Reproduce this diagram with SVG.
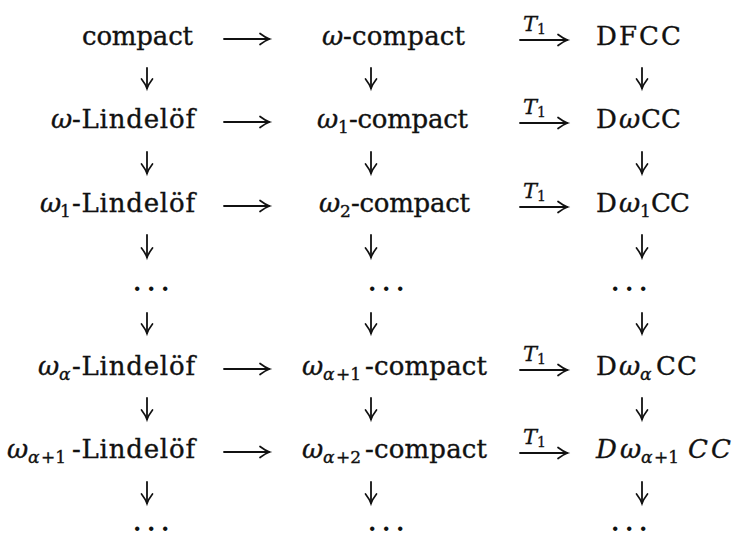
<svg xmlns="http://www.w3.org/2000/svg" width="736" height="536" viewBox="0 0 736 536">
<style>
.t{font-family:"DejaVu Serif","Liberation Serif",serif;font-size:26px;fill:#111;stroke:#111;stroke-width:0.35}
.i{font-style:italic}
.s{font-size:17px}
.lab{font-family:"DejaVu Serif","Liberation Serif",serif;font-size:21px;font-style:italic;fill:#111;stroke:#111;stroke-width:0.3}
.ls{font-size:14px;font-style:normal}
.d{font-family:"DejaVu Serif","Liberation Serif",serif;font-size:24px;font-weight:bold;fill:#111}
.c{stroke:#111;stroke-width:1.8;fill:none;stroke-linecap:round}
</style>
<defs>
<marker id="ah" markerUnits="userSpaceOnUse" markerWidth="16" markerHeight="16" viewBox="-12 -8 16 16" refX="0" refY="0" orient="auto">
<path d="M-9,-5.5 Q-3.5,-1.3 0.5,0 Q-3.5,1.3 -9,5.5" fill="none" stroke="#111" stroke-width="1.7" stroke-linecap="round"/>
</marker>
</defs>
<rect width="736" height="536" fill="#ffffff"/>

<!-- Column 1 -->
<g id="compact"><text class="t" x="82" y="45" textLength="111">compact</text></g>
<g id="omega-lindelof"><text class="t i" x="51" y="128">ω</text><text class="t" x="72" y="128" textLength="123">-Lindelöf</text></g>
<g id="omega1-lindelof"><text class="t i" x="40" y="212">ω</text><text class="t s" x="60" y="217">1</text><text class="t" x="72" y="212" textLength="123">-Lindelöf</text></g>
<g id="dots-1a"><text class="d" x="133 147 161" y="291">...</text></g>
<g id="omegaa-lindelof"><text class="t i" x="38" y="375">ω</text><text class="t s i" x="59" y="380">α</text><text class="t" x="72" y="375" textLength="123">-Lindelöf</text></g>
<g id="omegaa1-lindelof"><text class="t i" x="7" y="458">ω</text><text class="t s i" x="28" y="463">α</text><text class="t s" x="41" y="463">+1</text><text class="t" x="72" y="458" textLength="123">-Lindelöf</text></g>
<g id="dots-1b"><text class="d" x="133 147 161" y="531">...</text></g>

<!-- Column 2 -->
<g id="omega-compact"><text class="t i" x="322" y="45">ω</text><text class="t" x="343" y="45" textLength="122">-compact</text></g>
<g id="omega1-compact"><text class="t i" x="317" y="128">ω</text><text class="t s" x="338" y="133">1</text><text class="t" x="349" y="128" textLength="119">-compact</text></g>
<g id="omega2-compact"><text class="t i" x="319" y="212">ω</text><text class="t s" x="340" y="217">2</text><text class="t" x="351" y="212" textLength="119">-compact</text></g>
<g id="dots-2a"><text class="d" x="368 382 396" y="291">...</text></g>
<g id="omegaa1-compact"><text class="t i" x="302" y="375">ω</text><text class="t s i" x="323" y="380">α</text><text class="t s" x="336" y="380">+1</text><text class="t" x="365" y="375" textLength="122">-compact</text></g>
<g id="omegaa2-compact"><text class="t i" x="302" y="458">ω</text><text class="t s i" x="323" y="463">α</text><text class="t s" x="336" y="463">+2</text><text class="t" x="365" y="458" textLength="122">-compact</text></g>
<g id="dots-2b"><text class="d" x="368 382 396" y="531">...</text></g>

<!-- Column 3 -->
<g id="dfcc"><text class="t" x="596" y="45" textLength="85">DFCC</text></g>
<g id="domegacc"><text class="t" x="596" y="128">D</text><text class="t i" x="619" y="128">ω</text><text class="t" x="641" y="128" textLength="40">CC</text></g>
<g id="domega1cc"><text class="t" x="596" y="212">D</text><text class="t i" x="619" y="212">ω</text><text class="t s" x="640" y="217">1</text><text class="t" x="651" y="212" textLength="39">CC</text></g>
<g id="dots-3a"><text class="d" x="611 625 639" y="291">...</text></g>
<g id="domegaacc"><text class="t" x="596" y="375">D</text><text class="t i" x="619" y="375">ω</text><text class="t s i" x="640" y="380">α</text><text class="t" x="656" y="375" textLength="41">CC</text></g>
<g id="domegaa1cc"><text class="t i" x="596" y="458">D</text><text class="t i" x="620" y="458">ω</text><text class="t s i" x="641" y="463">α</text><text class="t s" x="654" y="463">+1</text><text class="t i" x="688" y="458" textLength="43">CC</text></g>
<g id="dots-3b"><text class="d" x="611 625 639" y="531">...</text></g>

<!-- Connectors -->
<g id="connectors">
<g id="horizontal">
<path class="c" marker-end="url(#ah)" d="M224,39 H269"/>
<path class="c" marker-end="url(#ah)" d="M224,122 H269"/>
<path class="c" marker-end="url(#ah)" d="M224,206 H269"/>
<path class="c" marker-end="url(#ah)" d="M224,369 H269"/>
<path class="c" marker-end="url(#ah)" d="M224,452 H269"/>
<path class="c" marker-end="url(#ah)" d="M520,40 H567"/>
<path class="c" marker-end="url(#ah)" d="M520,123 H567"/>
<path class="c" marker-end="url(#ah)" d="M520,207 H567"/>
<path class="c" marker-end="url(#ah)" d="M520,370 H567"/>
<path class="c" marker-end="url(#ah)" d="M520,453 H567"/>
</g>
<g id="labels">
<text class="lab" x="523" y="31">T<tspan class="ls" dy="3">1</tspan></text>
<text class="lab" x="523" y="114">T<tspan class="ls" dy="3">1</tspan></text>
<text class="lab" x="523" y="198">T<tspan class="ls" dy="3">1</tspan></text>
<text class="lab" x="523" y="361">T<tspan class="ls" dy="3">1</tspan></text>
<text class="lab" x="523" y="444">T<tspan class="ls" dy="3">1</tspan></text>
</g>
<g id="vertical">
<path class="c" marker-end="url(#ah)" d="M147,68 V88"/>
<path class="c" marker-end="url(#ah)" d="M147,152 V173"/>
<path class="c" marker-end="url(#ah)" d="M147,235 V257"/>
<path class="c" marker-end="url(#ah)" d="M147,313 V333"/>
<path class="c" marker-end="url(#ah)" d="M147,398 V419"/>
<path class="c" marker-end="url(#ah)" d="M147,482 V503"/>
<path class="c" marker-end="url(#ah)" d="M371,68 V88"/>
<path class="c" marker-end="url(#ah)" d="M371,152 V173"/>
<path class="c" marker-end="url(#ah)" d="M371,235 V257"/>
<path class="c" marker-end="url(#ah)" d="M371,313 V333"/>
<path class="c" marker-end="url(#ah)" d="M371,398 V419"/>
<path class="c" marker-end="url(#ah)" d="M371,482 V503"/>
<path class="c" marker-end="url(#ah)" d="M642,68 V88"/>
<path class="c" marker-end="url(#ah)" d="M642,152 V173"/>
<path class="c" marker-end="url(#ah)" d="M642,235 V257"/>
<path class="c" marker-end="url(#ah)" d="M642,313 V333"/>
<path class="c" marker-end="url(#ah)" d="M642,398 V419"/>
<path class="c" marker-end="url(#ah)" d="M642,482 V503"/>
</g>
</g>
</svg>
